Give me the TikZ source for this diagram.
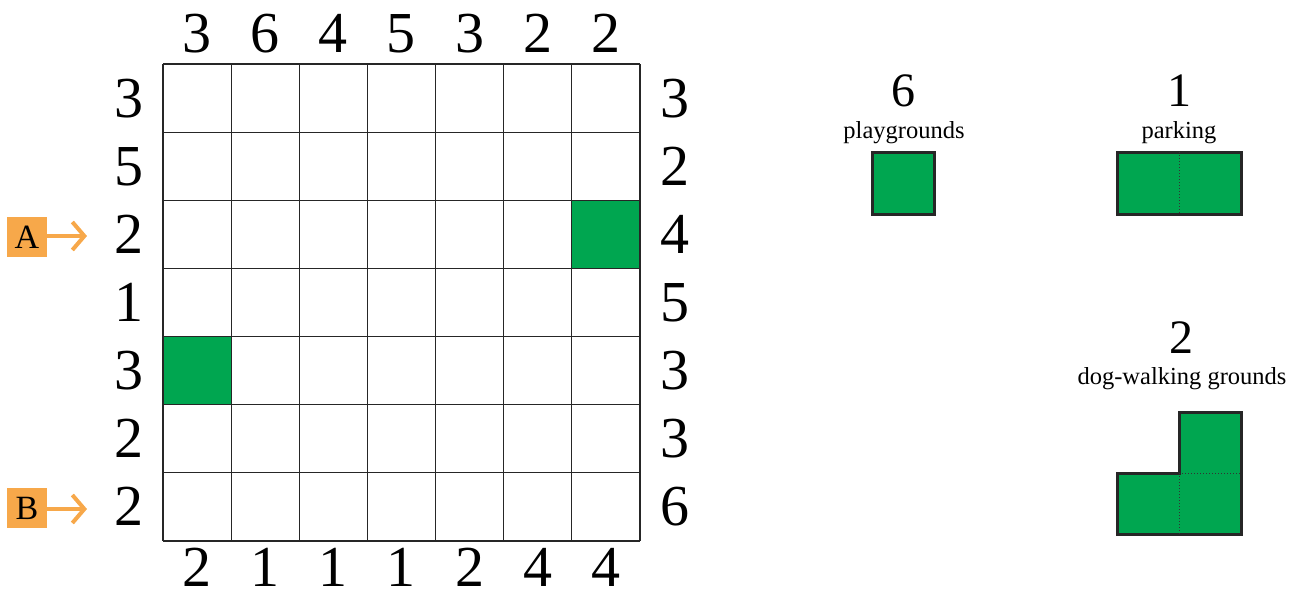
\documentclass[tikz,border=0pt]{standalone}
\usepackage{fontspec}
\setmainfont{Liberation Serif}
\usetikzlibrary{arrows.meta}
\definecolor{pgreen}{HTML}{00A650}
\definecolor{porange}{HTML}{F7A84A}
\tikzset{
  bignum/.style={anchor=base,inner sep=0pt,font=\fontsize{58}{60}\selectfont},
  midnum/.style={anchor=base,inner sep=0pt,font=\fontsize{48}{50}\selectfont},
  lbl/.style={anchor=base,inner sep=0pt,font=\fontsize{24.5}{26}\selectfont},
  gridline/.style={line width=1.2pt,black!85},
  piece/.style={fill=pgreen,draw=black!85,line width=3pt},
  seam/.style={black!80,line width=1pt,dotted},
  tag/.style={fill=porange,minimum width=40pt,minimum height=40pt,inner sep=0pt,font=\fontsize{34}{36}\selectfont},
  tagarrow/.style={porange,line width=4pt,-{Straight Barb[length=12pt,width=28pt,line width=4pt]}}
}
\begin{document}
\begin{tikzpicture}[x=1pt,y=-1pt]
\useasboundingbox (0,0) rectangle (1302,597);
% green cells
\fill[pgreen] (572,200) rectangle (640,268);
\fill[pgreen] (163,337) rectangle (231,405);
% grid
\foreach \i in {0,...,7}{
  \draw[gridline] ({163+\i*68.14},64) -- ({163+\i*68.14},541);
  \draw[gridline] (163,{64+\i*68.14}) -- (640,{64+\i*68.14});
}
% top numbers
\foreach \v [count=\i from 0] in {3,6,4,5,3,2,2}
  \node[bignum] (t\i) at ({197+\i*68.14},52) {\v};
% bottom numbers
\foreach \v [count=\i from 0] in {2,1,1,1,2,4,4}
  \node[bignum] (b\i) at ({197+\i*68.14},586) {\v};
% left numbers
\foreach \v [count=\i from 0] in {3,5,2,1,3,2,2}
  \node[bignum] (l\i) at (129,{117+\i*68.14}) {\v};
% right numbers
\foreach \v [count=\i from 0] in {3,2,4,5,3,3,6}
  \node[bignum] (r\i) at (675,{117+\i*68.14}) {\v};
% tags
\node[tag] (A) at (27,237) {A};
\node[tag] (B) at (27,508) {B};
\coordinate (Aend) at (87,236);
\coordinate (Bend) at (87,509);
\draw[tagarrow] (A.east |- Aend) -- (Aend);
\draw[tagarrow] (B.east |- Bend) -- (Bend);
% pieces
\node[midnum] (n6) at (903,106) {6};
\node[lbl] (play) at (904,138) {playgrounds};
\draw[piece] (872,152) rectangle (934,214);
\node[midnum] (n1) at (1179,106) {1};
\node[lbl] (park) at (1179,138) {parking};
\draw[piece] (1117,152) rectangle (1241,214);
\draw[seam] (1179,152) -- (1179,214);
\node[midnum] (n2) at (1181,353) {2};
\node[lbl] (dog) at (1182,384) {dog-walking grounds};
\draw[piece] (1117,473) -- (1179,473) -- (1179,412) -- (1241,412) -- (1241,534) -- (1117,534) -- cycle;
\draw[seam] (1179,473) -- (1241,473);
\draw[seam] (1179,473) -- (1179,534);
\end{tikzpicture}
\end{document}
